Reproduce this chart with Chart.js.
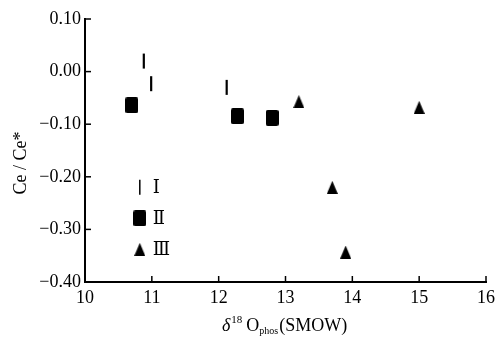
<!DOCTYPE html>
<html>
<head>
<meta charset="utf-8">
<script src="https://cdn.jsdelivr.net/npm/chart.js@4/dist/chart.umd.min.js"></script>
<style>
  html, body { margin: 0; padding: 0; background: #fff; }
  #wrap { width: 500px; height: 342px; }
</style>
</head>
<body>
<div id="wrap"><canvas id="c" width="500" height="342"></canvas></div>
<script>
// ---- data ----
const seriesNames = ['Ⅰ', 'Ⅱ', 'Ⅲ'];
const seriesI_x = [10.88, 10.99, 12.12];
const seriesI_y = [0.02, -0.023, -0.03];
const seriesII_x = [10.70, 12.28, 12.80];
const seriesII_y = [-0.064, -0.085, -0.088];
const seriesIII_x = [13.2, 13.7, 13.9, 15.0];
const seriesIII_y = [-0.057, -0.22, -0.343, -0.068];
const xTickValues = [10, 11, 12, 13, 14, 15, 16];
const yTickValues = [0.10, 0.00, -0.10, -0.20, -0.30, -0.40];
const yTickLabels = ['0.10', '0.00', '−0.10', '−0.20', '−0.30', '−0.40'];
const xTitleParts = { delta: 'δ', sup: '18', main: 'O', sub: 'phos', rest: '(SMOW)' };
const yTitle = 'Ce / Ce*';

const SERIF = '"Liberation Serif", "DejaVu Serif", serif';

function toPoints(xs, ys) { return xs.map((x, i) => ({ x: x, y: ys[i] })); }

function makeRect() {
  const c = document.createElement('canvas');
  c.width = 13; c.height = 16;
  const g = c.getContext('2d');
  g.fillStyle = '#000';
  g.beginPath();
  if (g.roundRect) g.roundRect(0, 0, 13, 16, 2); else g.rect(0, 0, 13, 16);
  g.fill();
  return c;
}
function makeTri() {
  const c = document.createElement('canvas');
  c.width = 11; c.height = 13;
  const g = c.getContext('2d');
  g.fillStyle = '#000';
  g.beginPath();
  g.moveTo(5.5, 0); g.lineTo(11, 13); g.lineTo(0, 13); g.closePath();
  g.fill();
  return c;
}
const rectImg = makeRect();
const triImg = makeTri();

const datasets = [
  { label: seriesNames[0], data: toPoints(seriesI_x, seriesI_y),
    pointStyle: 'line', rotation: 90, radius: 7.5, borderWidth: 2.2,
    borderColor: '#000', backgroundColor: '#000' },
  { label: seriesNames[1], data: toPoints(seriesII_x, seriesII_y),
    pointStyle: rectImg, radius: 8, borderColor: '#000', backgroundColor: '#000' },
  { label: seriesNames[2], data: toPoints(seriesIII_x, seriesIII_y),
    pointStyle: triImg, radius: 7, borderColor: '#000', backgroundColor: '#000' }
];

const decorPlugin = {
  id: 'decor',
  afterDraw(chart) {
    const ctx = chart.ctx;
    const xs = chart.scales.x, ys = chart.scales.y;
    const area = chart.chartArea;
    ctx.save();
    ctx.strokeStyle = '#000';
    ctx.lineWidth = 1.5;
    // inward ticks
    xs.ticks.forEach(t => {
      const px = xs.getPixelForValue(t.value);
      ctx.beginPath(); ctx.moveTo(px, area.bottom); ctx.lineTo(px, area.bottom - 6); ctx.stroke();
    });
    ys.ticks.forEach(t => {
      const py = ys.getPixelForValue(t.value);
      ctx.beginPath(); ctx.moveTo(area.left, py); ctx.lineTo(area.left + 6, py); ctx.stroke();
    });

    // legend inside plot
    const lx = xs.getPixelForValue(10.82);
    const ly0 = ys.getPixelForValue(-0.22);
    const gap = 31;
    ctx.fillStyle = '#000';
    ctx.font = '18px ' + SERIF;
    ctx.textBaseline = 'middle';
    ctx.textAlign = 'left';
    chart.data.datasets.forEach((ds, i) => {
      const y = ly0 + i * gap;
      Chart.helpers.drawPoint(ctx, {
        pointStyle: ds.pointStyle, rotation: ds.rotation || 0,
        radius: ds.radius, borderWidth: ds.borderWidth || 1
      }, lx, y);
      ctx.fillStyle = '#000';
      ctx.fillText(ds.label, lx + 13, y + 1);
    });

    // y title
    ctx.save();
    ctx.translate(21, 163);
    ctx.rotate(-Math.PI / 2);
    ctx.textAlign = 'center';
    ctx.textBaseline = 'middle';
    ctx.font = '18px ' + SERIF;
    ctx.fillText(yTitle, 0, 0);
    ctx.restore();

    // x title with super/subscripts
    let x = 222; const base = 331;
    ctx.textBaseline = 'alphabetic';
    ctx.textAlign = 'left';
    ctx.font = 'italic 18px ' + SERIF;
    ctx.fillText(xTitleParts.delta, x, base); x += ctx.measureText(xTitleParts.delta).width + 1;
    ctx.font = '11px ' + SERIF;
    ctx.fillText(xTitleParts.sup, x, base - 8); x += ctx.measureText(xTitleParts.sup).width + 4;
    ctx.font = '18px ' + SERIF;
    ctx.fillText(xTitleParts.main, x, base); x += ctx.measureText(xTitleParts.main).width;
    ctx.font = '10px ' + SERIF;
    ctx.fillText(xTitleParts.sub, x, base + 3); x += ctx.measureText(xTitleParts.sub).width + 1;
    ctx.font = '18px ' + SERIF;
    ctx.fillText(xTitleParts.rest, x, base);
    ctx.restore();
  }
};

new Chart(document.getElementById('c'), {
  type: 'scatter',
  data: { datasets: datasets },
  options: {
    responsive: false,
    animation: false,
    devicePixelRatio: 1,
    layout: { padding: { top: 19, right: 13, left: 0, bottom: 0 } },
    plugins: { legend: { display: false }, tooltip: { enabled: false } },
    scales: {
      x: {
        type: 'linear', min: 10, max: 16,
        afterFit(s) { s.height = 60; },
        afterBuildTicks(s) { s.ticks = xTickValues.map(v => ({ value: v })); },
        grid: { display: true, drawOnChartArea: false, drawTicks: false },
        border: { display: true, color: '#000', width: 2 },
        ticks: { color: '#000', padding: 5, font: { family: SERIF, size: 18 },
                 callback: v => String(v) }
      },
      y: {
        type: 'linear', min: -0.4, max: 0.1,
        afterFit(s) { s.width = 85; },
        afterBuildTicks(s) { s.ticks = yTickValues.map(v => ({ value: v })); },
        grid: { display: true, drawOnChartArea: false, drawTicks: false },
        border: { display: true, color: '#000', width: 2 },
        ticks: { color: '#000', padding: 4, font: { family: SERIF, size: 18 },
                 callback: (v) => {
                   const i = yTickValues.findIndex(t => Math.abs(t - v) < 1e-9);
                   return i >= 0 ? yTickLabels[i] : '';
                 } }
      }
    }
  },
  plugins: [decorPlugin]
});
</script>
</body>
</html>
